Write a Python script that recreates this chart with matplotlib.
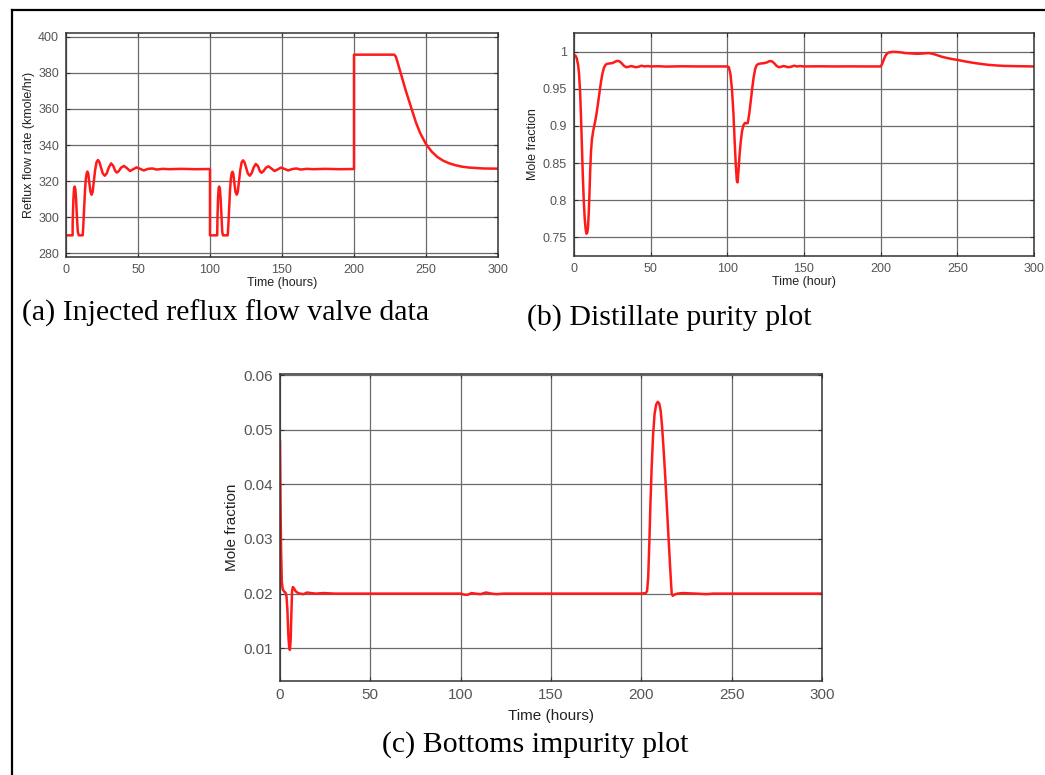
import numpy as np
import matplotlib
matplotlib.use("Agg")
import matplotlib.pyplot as plt
from matplotlib.ticker import FormatStrFormatter, FuncFormatter
from matplotlib.lines import Line2D

# (a) reflux flow rate, kmole/hr
reflux_t = [0, 4.6, 4.6, 4.8, 5.2, 5.6, 6.0, 6.5, 7.0, 7.6, 8.2, 8.9, 11.6, 12.0, 12.6,
            13.2, 13.8, 14.4, 14.9, 15.5, 16.2, 17.0, 17.8, 18.5, 19.3, 20.2, 21.2, 22.2,
            23.2, 24.3, 25.5, 26.9, 28.3, 29.7, 31.3, 32.8, 34.0, 35.2, 36.6, 38.3, 40.3,
            42.3, 44.5, 46.5, 49.0, 51.5, 54.0, 57.0, 60.0, 63.0, 67.0, 72.0, 80.0, 90.0,
            100.0, 100.0, 105.0, 105.2, 105.6, 106.0, 106.4, 106.9, 107.4, 108.0, 108.5,
            109.0, 112.3, 112.7, 113.3, 113.9, 114.5, 115.1, 115.6, 116.2, 116.9, 117.7,
            118.6, 119.3, 120.1, 121.0, 122.0, 123.0, 124.0, 125.1, 126.3, 127.6, 129.0,
            130.3, 131.8, 133.3, 134.5, 135.7, 137.1, 138.8, 140.6, 142.6, 144.8, 146.8,
            149.2, 151.7, 154.3, 157.2, 160.0, 163.0, 167.0, 172.0, 180.0, 190.0, 200.0,
            200.0, 228.0, 229.0, 230.0, 232.0, 234.0, 236.0, 238.0, 240.0, 243.0, 246.0,
            250.0, 254.0, 258.0, 262.0, 266.0, 270.0, 275.0, 280.0, 290.0, 300.0]
reflux = [290, 290, 296, 302, 311, 316, 317, 315.5, 310, 300, 292, 290, 290, 295, 305,
          315, 321.5, 324.5, 325.3, 324, 319, 314, 312.5, 314, 319.5, 326, 330.5, 331.7,
          330.5, 327.5, 324.3, 323, 324.3, 327.5, 329.8, 328.5, 326, 324.7, 325.5, 327.5, 328.4,
          327.2, 325.6, 326.5, 327.6, 326.8, 325.9, 326.8, 327, 326.4, 326.8, 326.6, 326.8, 326.6,
          326.7, 290, 290, 300, 311, 316, 317, 315.5, 310, 300, 292,
          290, 290, 295, 305, 315, 321.5, 324.5, 325.2, 324, 319, 314,
          312.5, 314, 319.5, 326, 330.5, 331.5, 330.3, 327.3, 324.2, 323, 324.5,
          327.5, 329.5, 328.3, 325.8, 324.6, 325.5, 327.4, 328.2, 327, 325.6, 326.4,
          327.5, 326.8, 325.9, 326.7, 327, 326.4, 326.8, 326.6, 326.8, 326.6, 326.7,
          390, 390, 389, 386.5, 381, 375.5, 370, 365, 360, 352.5, 346.5,
          340.5, 336.3, 333.3, 331.3, 329.9, 328.9, 328, 327.5, 327, 326.9]

# (b) distillate purity, mole fraction
purity_t = [0, 1, 1.8, 2.6, 3.3, 4.0, 4.6, 5.2, 5.8, 6.4, 7.0, 7.6, 8.1, 8.6, 9.1, 9.6,
            10.1, 10.6, 11.1, 11.7, 12.5, 13.5, 14.5, 15.5, 16.5, 17.5, 18.5, 19.5, 20.5,
            21.5, 23, 25, 26.5, 28, 29.5, 31, 32.5, 34, 35.5, 37, 38.5, 40, 42, 44, 46, 48,
            50, 55, 60, 70, 80, 90, 100,
            101, 102, 103, 104, 104.8, 105.5, 106.2, 106.7, 107.3, 108.0, 108.8, 109.6,
            110.5, 111.5, 112.5, 113.3, 114.2, 115.2, 116.2, 117.2, 118.2, 119.2, 120.5,
            122, 124, 126, 127.5, 129, 130.5, 132, 133.5, 135, 136.5, 138, 139.5, 141.5,
            143.5, 145.5, 147.5, 150, 160, 170, 180, 190, 200,
            201, 202, 203, 204, 205, 206.5, 208, 210, 213, 216, 220, 224, 228, 231, 234,
            237, 240, 243, 246, 250, 255, 260, 265, 270, 275, 280, 290, 300]
purity = [0.9955, 0.9945, 0.991, 0.983, 0.970, 0.945, 0.910, 0.870, 0.830, 0.798, 0.775,
          0.761, 0.755, 0.756, 0.763, 0.782, 0.810, 0.842, 0.866, 0.882, 0.893, 0.903,
          0.914, 0.928, 0.943, 0.958, 0.970, 0.978, 0.982, 0.9835, 0.984, 0.9845, 0.986,
          0.9875, 0.987, 0.9845, 0.981, 0.979, 0.9795, 0.9805, 0.980, 0.979, 0.9795, 0.981,
          0.980, 0.9805, 0.980, 0.9803, 0.9798, 0.9802, 0.980, 0.980, 0.980,
          0.979, 0.970, 0.950, 0.916, 0.878, 0.848, 0.826, 0.824, 0.840, 0.862, 0.880,
          0.893, 0.901, 0.904, 0.9035, 0.904, 0.915, 0.932, 0.950, 0.966, 0.977, 0.982,
          0.9835, 0.984, 0.9845, 0.9855, 0.9872, 0.987, 0.9845, 0.981, 0.979, 0.9795,
          0.9805, 0.980, 0.979, 0.9795, 0.981, 0.980, 0.9805, 0.980, 0.9802, 0.980,
          0.9801, 0.980, 0.980,
          0.9835, 0.989, 0.994, 0.997, 0.9985, 0.9993, 0.9997, 0.9995, 0.999, 0.998,
          0.9975, 0.997, 0.9975, 0.998, 0.997, 0.995, 0.993, 0.9915, 0.9902, 0.9888,
          0.9868, 0.985, 0.9835, 0.9822, 0.9814, 0.9808, 0.9803, 0.980]

# (c) bottoms impurity, mole fraction
impurity_t = [0, 0.3, 0.6, 1.0, 1.5, 2.2, 3.0, 3.6, 4.1, 4.6, 5.1, 5.5, 5.9, 6.3, 6.7,
              7.1, 7.7, 8.5, 9.5, 11, 13, 15, 17, 20, 24, 30, 40, 60, 80, 100, 102, 104,
              106, 108, 111, 114, 117, 120, 124, 130, 150, 175, 200, 202.5, 203.2, 203.8,
              204.4, 205.0, 205.7, 206.5, 207.3, 208.2, 209.1, 209.9, 210.7, 211.5, 212.4,
              213.3, 214.2, 215.1, 216.0, 216.8, 217.4, 218.3, 220, 223, 230, 236, 240, 300]
impurity = [0.0478, 0.036, 0.028, 0.0222, 0.0208, 0.0204, 0.0202, 0.0195, 0.017, 0.0125,
            0.0100, 0.0097, 0.0115, 0.0165, 0.0205, 0.0212, 0.0210, 0.0205, 0.0202, 0.0200,
            0.0199, 0.0202, 0.0201, 0.0200, 0.0201, 0.0200, 0.0200, 0.0200, 0.0200, 0.0200,
            0.0198, 0.0198, 0.0201, 0.0200, 0.0199, 0.0202, 0.0200, 0.0199, 0.0200, 0.0200,
            0.0200, 0.0200, 0.0200, 0.0201, 0.0205, 0.0230, 0.0290, 0.0360, 0.0430, 0.0490,
            0.0528, 0.0546, 0.0551, 0.0548, 0.0535, 0.0505, 0.0460, 0.0410, 0.0355, 0.0300,
            0.0245, 0.0200, 0.0196, 0.0198, 0.0200, 0.0201, 0.0200, 0.0199, 0.0200, 0.0200]

captions = ["(a) Injected reflux flow valve data", "(b) Distillate purity plot",
            "(c) Bottoms impurity plot"]

W, H = 1045, 775
fig = plt.figure(figsize=(W / 100, H / 100), dpi=100)
plt.rcParams['font.family'] = ['Liberation Sans', 'DejaVu Sans']


def box(x0, y0, x1, y1):
    # pixel box -> figure fraction
    return [x0 / W, 1 - y1 / H, (x1 - x0) / W, (y1 - y0) / H]


def style(ax, fs):
    ax.set_xlim(0, 300)
    ax.set_xticks(np.arange(0, 301, 50))
    ax.grid(True, color='#6a6a6a', lw=0.9)
    ax.set_axisbelow(True)
    ax.tick_params(direction='in', length=3, width=0.8, labelsize=fs,
                   colors='#333333', labelcolor='#555555', top=True, right=True, pad=5)
    for s in ax.spines.values():
        s.set_color('#333333')
        s.set_linewidth(1.1)


red = '#ff1a1a'

ax1 = fig.add_axes(box(66, 33, 498, 257))
ax1.plot(reflux_t, reflux, color=red, lw=1.8)
style(ax1, 9)
ax1.set_ylim(278, 402)
ax1.set_yticks(np.arange(280, 401, 20))
ax1.set_xlabel("Time (hours)", fontsize=9, color='#222222', labelpad=1)
ax1.set_ylabel("Reflux flow rate (kmole/hr)", fontsize=9, color='#222222', labelpad=2)

ax2 = fig.add_axes(box(574, 33, 1034, 256))
ax2.plot(purity_t, purity, color=red, lw=1.8)
style(ax2, 9)
ax2.set_ylim(0.725, 1.025)
ax2.set_yticks([0.75, 0.8, 0.85, 0.9, 0.95, 1.0])
ax2.yaxis.set_major_formatter(FuncFormatter(lambda v, p: '%g' % round(v, 3)))
ax2.set_xlabel("Time (hour)", fontsize=9, color='#222222', labelpad=1)
ax2.set_ylabel("Mole fraction", fontsize=9, color='#222222', labelpad=3)

ax3 = fig.add_axes(box(280, 374, 822, 681))
ax3.plot(impurity_t, impurity, color=red, lw=1.8)
style(ax3, 11)
ax3.set_ylim(0.004, 0.0602)
ax3.set_yticks([0.01, 0.02, 0.03, 0.04, 0.05, 0.06])
ax3.yaxis.set_major_formatter(FormatStrFormatter('%.2f'))
ax3.set_xlabel("Time (hours)", fontsize=11, color='#222222', labelpad=5)
ax3.set_ylabel("Mole fraction", fontsize=11, color='#222222', labelpad=3)

serif = ['Liberation Serif', 'DejaVu Serif']
fig.text(22 / W, 1 - 313 / H, captions[0], fontsize=21.5, family=serif, va='center', ha='left')
fig.text(527 / W, 1 - 318 / H, captions[1], fontsize=21.5, family=serif, va='center', ha='left')
fig.text(535 / W, 1 - 745 / H, captions[2], fontsize=21.5, family=serif, va='center', ha='center')

# outer frame of the figure panel
fig.add_artist(Line2D([12 / W, 12 / W], [0, 1 - 10 / H], color='black', lw=1.6))
fig.add_artist(Line2D([12 / W, 1], [1 - 10 / H, 1 - 10 / H], color='black', lw=1.6))

fig.savefig("out.png", dpi=100)
